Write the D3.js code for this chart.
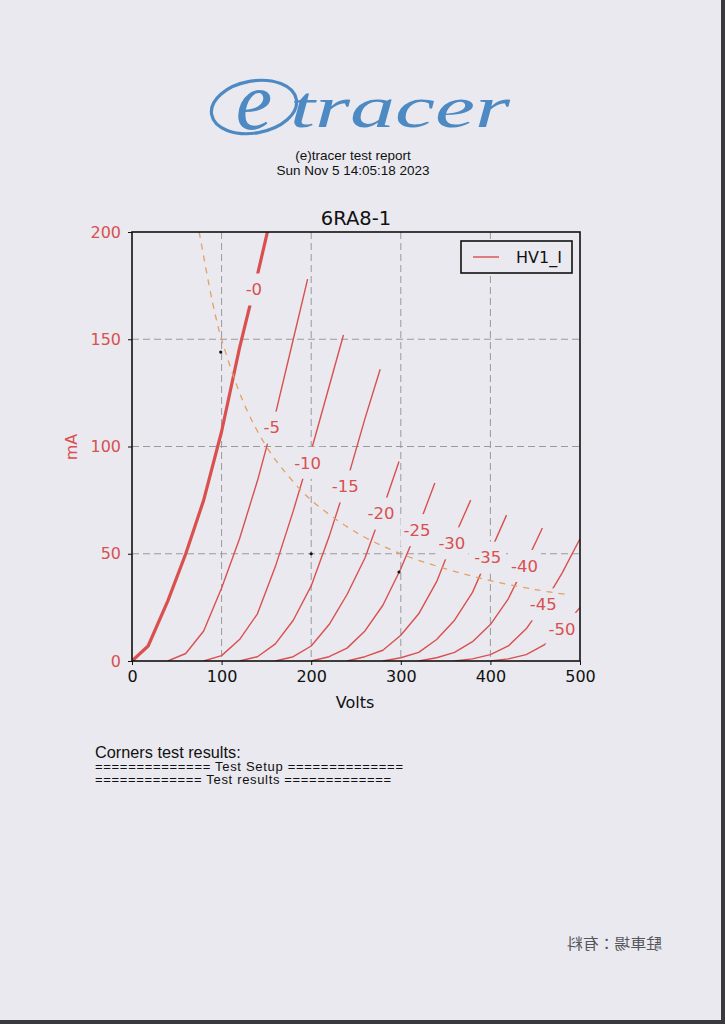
<!DOCTYPE html>
<html><head><meta charset="utf-8">
<script src="https://cdn.jsdelivr.net/npm/d3@7"></script>
<style>
html,body{margin:0;padding:0;background:#e9e9ef;}
svg{display:block;}
</style></head><body>
<svg id="c" width="725" height="1024"></svg>
<script>
// ---- data ----
const gridVoltages = ["-0","-5","-10","-15","-20","-25","-30","-35","-40","-45","-50"];
const curve0  = [[0,0],[18,7],[40,28],[60,50],[80,75],[100,107],[120,146],[140,180],[160,216]];
const curve5  = [[40,0],[60,3.5],[80,14],[100,34],[120,57],[140,84],[160,115],[180,150],[196,178]];
const curve10 = [[80,0],[100,2.5],[120,10],[140,22],[160,44],[180,70],[200,98],[220,128],[236,152]];
const curve15 = [[120,0],[140,2],[160,8],[180,19],[200,35],[220,58],[240,84],[260,113],[277,136]];
const curve20 = [[160,0],[180,2],[200,7],[220,17],[240,31],[260,48],[280,71],[298,93]];
const curve25 = [[200,0],[220,2],[240,6],[260,14],[280,26],[300,43],[320,63],[338,83]];
const curve30 = [[240,0],[260,2],[280,5],[300,12],[320,22],[340,37],[360,58],[378,75]];
const curve35 = [[280,0],[300,1.5],[320,4],[340,10],[360,19],[380,32],[400,51],[418,68]];
const curve40 = [[320,0],[340,1.5],[360,4],[380,9],[400,17],[420,29],[440,46],[458,62]];
const curve45 = [[360,0],[380,1],[400,3],[420,7],[440,15],[460,27],[480,41],[500,57]];
const curve50 = [[400,0],[420,1],[440,3],[460,7.5],[480,15],[500,25]];
const labelVolts = [136,156,196,238,278,318,357,397,438,459,480];
const powerLimit = [[75,200],[90,167],[100,150],[125,120],[150,100],[175,86],[200,75],[250,60],[300,50],[350,43],[400,37.5],[450,33.3],[485,31]];
const markers = [[99,144],[200,50],[298,41.5]];
const xTicks = [0,100,200,300,400,500];
const yTicks = [0,50,100,150,200];
const seriesName = "HV1_I";

const curves = [curve0,curve5,curve10,curve15,curve20,curve25,curve30,curve35,curve40,curve45,curve50];

// ---- drawing ----
const svg = d3.select("#c");
const paper = "#e9e9ef";
const red = "#d9504f";
svg.append("rect").attr("width",725).attr("height",1024).attr("fill",paper);

// logo
const blue = "#4d89c2";
const logo = svg.append("g").attr("fill",blue);
logo.append("ellipse").attr("cx",254).attr("cy",107).attr("rx",43).attr("ry",26)
  .attr("transform","rotate(-10,254,107)").attr("fill","none").attr("stroke",blue).attr("stroke-width",3.2);
logo.append("text").attr("x",254).attr("y",129).attr("text-anchor","middle")
  .attr("font-family","Liberation Serif").attr("font-style","italic").attr("font-size",82).text("e");
logo.append("text").attr("x",290).attr("y",127)
  .attr("font-family","Liberation Serif").attr("font-style","italic").attr("font-size",60)
  .attr("textLength",220).attr("lengthAdjust","spacingAndGlyphs").text("tracer");

// header
const hdr = svg.append("g").attr("font-family","Liberation Sans").attr("font-size",13.5).attr("fill","#111").attr("text-anchor","middle");
hdr.append("text").attr("x",353).attr("y",160).text("(e)tracer test report");
hdr.append("text").attr("x",353).attr("y",175).text("Sun Nov 5 14:05:18 2023");

// chart
const x = d3.scaleLinear().domain([0,500]).range([132,580]);
const y = d3.scaleLinear().domain([0,200]).range([661,232]);
const font = "DejaVu Sans";

svg.append("defs").append("clipPath").attr("id","pc").append("rect")
  .attr("x",132).attr("y",232).attr("width",448).attr("height",429);

// grid
const grid = svg.append("g").attr("stroke","#9a9a9a").attr("stroke-width",1).attr("stroke-dasharray","7,4");
grid.selectAll(".gx").data(xTicks.slice(1,-1)).join("line")
  .attr("x1",d=>x(d)).attr("x2",d=>x(d)).attr("y1",232).attr("y2",661);
grid.selectAll(".gy").data(yTicks.slice(1,-1)).join("line")
  .attr("y1",d=>y(d)).attr("y2",d=>y(d)).attr("x1",132).attr("x2",580);

// curves
const line = d3.line().x(d=>x(d[0])).y(d=>y(d[1]));
const cg = svg.append("g").attr("clip-path","url(#pc)");
cg.selectAll("path.c").data(curves).join("path")
  .attr("d",line).attr("fill","none").attr("stroke",red)
  .attr("stroke-width",(d,i)=>i===0?3.2:1.4).attr("stroke-linejoin","round");

// inline labels
function interp(c,v){
  for(let i=1;i<c.length;i++){ if(v<=c[i][0]){const a=c[i-1],b=c[i];return a[1]+(b[1]-a[1])*(v-a[0])/(b[0]-a[0]);} }
  return c[c.length-1][1];
}
const lg = svg.append("g");
curves.forEach((c,i)=>{
  const px = x(labelVolts[i]), py = y(interp(c,labelVolts[i]));
  const t = lg.append("text").attr("x",px).attr("y",py).attr("dy","0.35em").attr("text-anchor","middle")
    .attr("font-family",font).attr("font-size",16.5).attr("fill",red).text(gridVoltages[i]);
  const bb = t.node().getBBox();
  lg.insert("rect","text").attr("x",bb.x-3).attr("y",py-16).attr("width",bb.width+6).attr("height",32).attr("fill",paper);
});

// power limit dashed
svg.append("path").datum(powerLimit).attr("clip-path","url(#pc)")
  .attr("d",d3.line().x(d=>x(d[0])).y(d=>y(d[1])).curve(d3.curveCatmullRom))
  .attr("fill","none").attr("stroke","#e3a062").attr("stroke-width",1.3).attr("stroke-dasharray","6,6");

// markers
svg.selectAll("circle.m").data(markers).join("circle")
  .attr("cx",d=>x(d[0])).attr("cy",d=>y(d[1])).attr("r",1.6).attr("fill","#111");

// frame
svg.append("rect").attr("x",132).attr("y",232).attr("width",448).attr("height",429)
  .attr("fill","none").attr("stroke","#111").attr("stroke-width",1.6);

// axes
const ax = svg.append("g").attr("transform","translate(0,661)")
  .call(d3.axisBottom(x).tickValues(xTicks).tickSize(4).tickPadding(6));
ax.select(".domain").remove();
ax.selectAll("text").attr("font-family",font).attr("font-size",16).attr("fill","#111");
ax.selectAll("line").attr("stroke","#111");
const ay = svg.append("g").attr("transform","translate(132,0)")
  .call(d3.axisLeft(y).tickValues(yTicks).tickSize(4).tickPadding(7));
ay.select(".domain").remove();
ay.selectAll("text").attr("font-family",font).attr("font-size",16).attr("fill",red);
ay.selectAll("line").attr("stroke","#111");

svg.append("text").attr("x",356).attr("y",225).attr("text-anchor","middle")
  .attr("font-family",font).attr("font-size",19.5).attr("fill","#111").text("6RA8-1");
svg.append("text").attr("x",355).attr("y",708).attr("text-anchor","middle")
  .attr("font-family",font).attr("font-size",16).attr("fill","#111").text("Volts");
svg.append("text").attr("transform","translate(77,447) rotate(-90)").attr("text-anchor","middle")
  .attr("font-family",font).attr("font-size",16).attr("fill",red).text("mA");

// legend
svg.append("rect").attr("x",461).attr("y",241).attr("width",111).attr("height",32)
  .attr("fill",paper).attr("stroke","#111").attr("stroke-width",1.6);
svg.append("line").attr("x1",473).attr("x2",499).attr("y1",257).attr("y2",257).attr("stroke",red).attr("stroke-width",1.4);
svg.append("text").attr("x",516).attr("y",263).attr("font-family",font).attr("font-size",16).attr("fill","#111").text(seriesName);

// bottom text
const bt = svg.append("g").attr("font-family","Liberation Sans").attr("fill","#111");
bt.append("text").attr("x",95).attr("y",758).attr("font-size",16.3).text("Corners test results:");
bt.append("text").attr("x",95).attr("y",771).attr("font-size",13).attr("textLength",308).attr("lengthAdjust","spacing")
  .text("============== Test Setup ==============");
bt.append("text").attr("x",95).attr("y",784).attr("font-size",13).attr("textLength",296).attr("lengthAdjust","spacing")
  .text("============= Test results =============");

// mirrored stamp seen through the page
svg.append("text").attr("transform","translate(662,949) scale(-1,1)")
  .attr("font-family","Noto Sans CJK JP").attr("font-size",15).attr("fill","#55555a")
  .attr("textLength",95).attr("lengthAdjust","spacingAndGlyphs").text("駐車場：有料");

// page edges
svg.append("rect").attr("x",721).attr("y",0).attr("width",4).attr("height",1024).attr("fill","#3a3a3e");
svg.append("rect").attr("x",0).attr("y",1020).attr("width",725).attr("height",4).attr("fill","#3a3a3e");
</script>
</body></html>
